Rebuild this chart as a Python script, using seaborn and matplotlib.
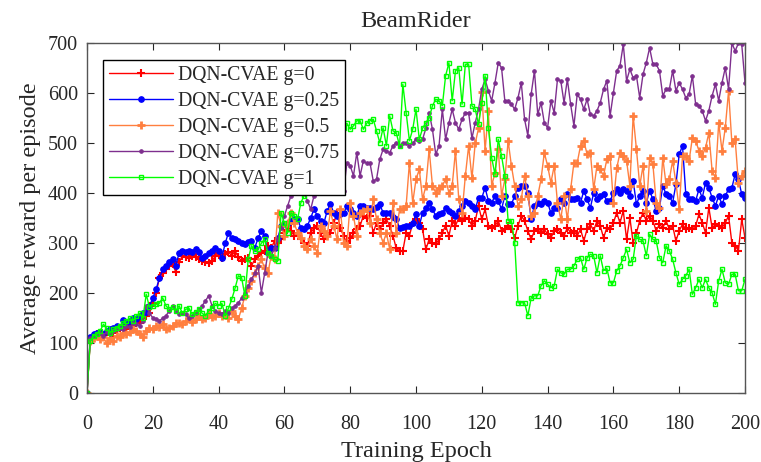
import matplotlib
matplotlib.use("Agg")
import matplotlib.pyplot as plt
import seaborn as sns

# Epochs on the x axis
epochs = list(range(0, 201))

# Average reward per episode (epoch 0..200)
reward_g0 = [0,
    108, 115, 118, 120, 116, 122, 125, 120, 128, 130,
    132, 128, 138, 135, 142, 140, 150, 155, 160, 181,
    201, 230, 241, 248, 255, 258, 243, 262, 275, 272,
    270, 274, 272, 268, 265, 262, 260, 264, 275, 280,
    270, 278, 283, 275, 285, 272, 265, 268, 270, 255,
    268, 275, 281, 285, 295, 290, 305, 300, 308, 320,
    335, 325, 315, 320, 308, 300, 295, 321, 330, 335,
    320, 308, 315, 321, 340, 361, 330, 315, 300, 310,
    320, 328, 335, 355, 350, 355, 321, 341, 328, 340,
    348, 335, 315, 290, 285, 285, 321, 315, 341, 348,
    340, 328, 288, 308, 300, 298, 308, 321, 335, 315,
    345, 335, 351, 345, 351, 348, 335, 345, 375, 348,
    368, 335, 331, 335, 345, 325, 328, 335, 328, 311,
    335, 355, 345, 325, 308, 325, 328, 321, 328, 318,
    311, 325, 328, 321, 315, 331, 321, 325, 315, 328,
    305, 328, 338, 325, 345, 335, 311, 331, 328, 341,
    361, 341, 365, 308, 351, 301, 321, 345, 361, 345,
    355, 345, 325, 338, 331, 345, 328, 335, 305, 325,
    338, 328, 331, 328, 335, 358, 341, 321, 371, 331,
    338, 335, 331, 341, 355, 301, 295, 285, 348, 311]

reward_g025 = [0,
    112, 118, 120, 122, 118, 125, 128, 130, 135, 132,
    146, 140, 145, 150, 148, 155, 160, 162, 175, 190,
    208, 230, 248, 255, 262, 268, 255, 281, 285, 283,
    285, 283, 288, 282, 271, 275, 280, 285, 290, 285,
    271, 300, 321, 310, 308, 305, 300, 298, 302, 305,
    291, 310, 325, 315, 281, 290, 291, 310, 335, 338,
    341, 345, 348, 348, 331, 328, 335, 351, 368, 355,
    345, 340, 365, 378, 361, 355, 358, 360, 375, 368,
    360, 355, 375, 375, 370, 371, 368, 372, 378, 361,
    360, 361, 352, 348, 331, 333, 335, 335, 340, 358,
    335, 361, 370, 381, 368, 355, 358, 361, 371, 365,
    361, 355, 365, 375, 385, 381, 375, 368, 391, 391,
    411, 385, 381, 395, 385, 368, 395, 378, 378, 395,
    411, 415, 415, 401, 348, 375, 381, 378, 385, 381,
    361, 371, 371, 388, 381, 398, 388, 388, 391, 381,
    405, 388, 371, 401, 388, 395, 398, 385, 385, 401,
    408, 401, 408, 405, 395, 425, 378, 395, 405, 381,
    405, 388, 365, 371, 415, 398, 395, 381, 418, 478,
    495, 398, 388, 388, 385, 408, 391, 421, 411, 391,
    375, 395, 378, 395, 408, 411, 438, 428, 398, 391]

reward_g05 = [0,
    105, 110, 115, 108, 112, 100, 110, 105, 115, 112,
    120, 118, 122, 128, 125, 118, 112, 125, 130, 128,
    135, 132, 138, 128, 130, 135, 140, 141, 138, 145,
    150, 142, 148, 155, 148, 150, 158, 152, 155, 160,
    155, 158, 150, 165, 155, 148, 170, 195, 211, 225,
    241, 255, 268, 250, 241, 275, 268, 361, 335, 315,
    340, 361, 340, 321, 310, 295, 288, 308, 295, 281,
    335, 325, 315, 365, 335, 308, 368, 300, 295, 381,
    355, 315, 361, 365, 368, 341, 388, 348, 321, 301,
    321, 288, 381, 321, 368, 368, 375, 461, 381, 428,
    448, 388, 415, 488, 415, 401, 410, 415, 428, 401,
    415, 485, 388, 361, 435, 495, 430, 500, 530, 603,
    485, 565, 415, 441, 488, 395, 428, 505, 455, 415,
    375, 388, 435, 395, 355, 361, 395, 428, 481, 455,
    421, 455, 381, 348, 395, 348, 408, 461, 461, 495,
    505, 478, 481, 408, 455, 448, 435, 468, 475, 381,
    450, 481, 475, 465, 415, 555, 488, 415, 455, 365,
    471, 458, 381, 371, 471, 418, 428, 465, 421, 368,
    475, 475, 465, 511, 505, 485, 475, 491, 521, 445,
    431, 541, 485, 531, 605, 501, 508, 421, 435, 445]

reward_g075 = [0,
    110, 115, 118, 120, 115, 122, 118, 125, 128, 130,
    128, 135, 132, 140, 138, 135, 145, 175, 160, 151,
    148, 145, 150, 155, 165, 175, 165, 158, 161, 158,
    150, 155, 160, 168, 175, 185, 195, 175, 165, 161,
    158, 165, 161, 170, 175, 181, 190, 201, 215, 228,
    240, 255, 201, 240, 281, 275, 290, 308, 330, 355,
    375, 395, 401, 405, 415, 400, 385, 368, 395, 421,
    425, 420, 428, 420, 415, 425, 420, 405, 461, 455,
    435, 481, 435, 465, 460, 461, 425, 428, 468, 488,
    485, 481, 495, 501, 495, 501, 501, 495, 500, 508,
    505, 508, 530, 561, 528, 478, 495, 568, 508, 540,
    568, 541, 528, 548, 561, 561, 510, 541, 568, 608,
    628, 605, 585, 621, 661, 651, 585, 585, 578, 568,
    591, 621, 548, 515, 598, 645, 558, 581, 541, 531,
    585, 561, 628, 625, 581, 628, 578, 535, 598, 588,
    568, 588, 558, 555, 565, 581, 608, 625, 555, 601,
    645, 655, 698, 625, 648, 631, 635, 591, 638, 661,
    691, 658, 658, 645, 595, 608, 608, 645, 605, 621,
    608, 591, 598, 635, 578, 575, 565, 545, 565, 595,
    618, 585, 621, 651, 608, 700, 685, 700, 698, 621]

reward_g1 = [0,
    105, 115, 118, 125, 138, 130, 120, 128, 130, 135,
    140, 145, 150, 145, 155, 160, 150, 198, 172, 175,
    178, 180, 191, 175, 168, 172, 165, 175, 160, 168,
    170, 158, 162, 168, 160, 155, 165, 170, 180, 175,
    180, 155, 170, 188, 210, 235, 231, 195, 268, 295,
    285, 288, 300, 308, 281, 275, 268, 265, 361, 340,
    321, 361, 355, 348, 381, 395, 430, 460, 480, 500,
    510, 520, 530, 525, 535, 528, 538, 531, 540, 528,
    535, 545, 545, 528, 540, 545, 548, 525, 501, 531,
    495, 555, 525, 521, 495, 618, 561, 505, 528, 568,
    508, 530, 541, 551, 575, 588, 585, 575, 635, 661,
    585, 645, 651, 578, 658, 658, 575, 568, 538, 581,
    635, 531, 471, 438, 508, 475, 435, 345, 345, 301,
    181, 181, 181, 155, 191, 195, 195, 215, 225, 218,
    211, 215, 248, 241, 238, 248, 248, 255, 268, 271,
    248, 271, 278, 275, 241, 275, 245, 250, 221, 221,
    245, 255, 271, 288, 261, 268, 315, 308, 305, 275,
    318, 308, 305, 271, 261, 295, 285, 268, 241, 218,
    228, 235, 248, 198, 211, 228, 211, 228, 211, 201,
    178, 225, 248, 221, 218, 238, 238, 205, 205, 228]

labels = ["DQN-CVAE g=0", "DQN-CVAE g=0.25", "DQN-CVAE g=0.5",
          "DQN-CVAE g=0.75", "DQN-CVAE g=1"]
series = [reward_g0, reward_g025, reward_g05, reward_g075, reward_g1]

# marker styles for each curve
styles = [
    dict(color="#ff0000", marker="+", ms=6, mew=1.5, mec="#ff0000", mfc="#ff0000"),
    dict(color="#0000ff", marker="o", ms=4, mew=0.8, mec="#0000ff", mfc="#0000ff"),
    dict(color="#ff7f3f", marker="+", ms=6, mew=2, mec="#ff7f3f", mfc="#ff7f3f"),
    dict(color="#7e2f8e", marker=".", ms=5, mew=0.8, mec="#7e2f8e", mfc="#7e2f8e"),
    dict(color="#00ff00", marker="s", ms=3.5, mew=1, mec="#00ff00", mfc="none"),
]

sns.set_style("ticks")
plt.rcParams["font.family"] = ["Liberation Serif", "DejaVu Serif"]

fig, ax = plt.subplots(figsize=(7.61, 4.62), dpi=100)
fig.subplots_adjust(left=0.1143, right=0.979, bottom=0.1487, top=0.9063)

for vals, lab, st in zip(series, labels, styles):
    sns.lineplot(x=epochs, y=vals, label=lab, ax=ax, lw=1, **st)

ax.set_xlim(0, 200)
ax.set_ylim(0, 700)
ax.set_xticks(range(0, 201, 20))
ax.set_yticks(range(0, 701, 100))
ax.tick_params(direction="in", top=True, right=True, length=5,
               width=0.8, labelsize=14.5, colors="#262626")
ax.tick_params(axis="x", pad=15.5)
ax.tick_params(axis="y", pad=6.5)
for sp in ax.spines.values():
    sp.set_color("#555555")
    sp.set_linewidth(1)

ax.set_title("BeamRider", fontsize=17.5, pad=12)
ax.set_xlabel("Training Epoch", fontsize=17.5, labelpad=5)
ax.set_ylabel("Average reward per episode", fontsize=17.5, labelpad=5)

ax.legend(loc="upper left", bbox_to_anchor=(0.024, 0.952), borderaxespad=0,
          fontsize=14.2, frameon=True, fancybox=False, edgecolor="black",
          framealpha=1, handlelength=3.25, handletextpad=0.25,
          labelspacing=0.35, borderpad=0.3)

fig.savefig("out.png", dpi=100)
